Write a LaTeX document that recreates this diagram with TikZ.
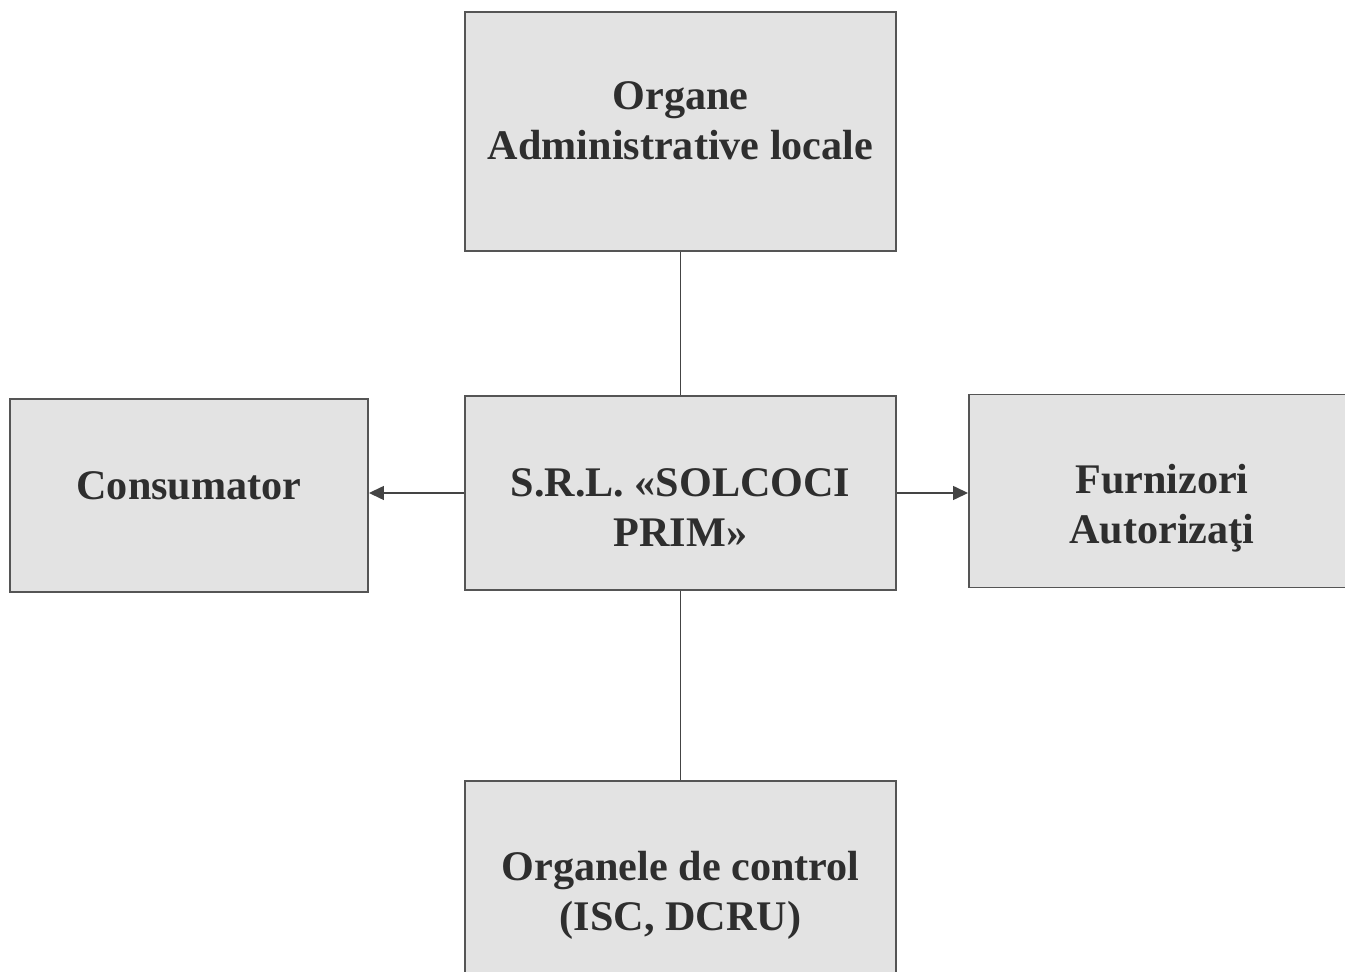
\documentclass[tikz,border=0pt]{standalone}
\usepackage{fontspec}
\setmainfont{Liberation Serif}
\usetikzlibrary{arrows.meta}
\definecolor{boxgrau}{HTML}{E3E3E3}
\definecolor{randgrau}{HTML}{555555}
\definecolor{textgrau}{HTML}{2E2E2E}
% Text im Kasten, senkrecht versetzt
\newcommand{\kastentext}[2]{\raisebox{#1}[0pt][0pt]{\begin{tabular}{@{}c@{}}#2\end{tabular}}}
\tikzset{
  kasten/.style={draw=randgrau, fill=boxgrau, line width=1.1pt,
    text=textgrau, font=\fontsize{24}{28.5}\selectfont\bfseries, inner sep=0pt},
  verbindung/.style={draw=randgrau!80!black, line width=0.8pt},
  pfeil/.style={verbindung, -{Triangle[length=0.3cm, width=0.28cm]}}
}
\begin{document}
\begin{tikzpicture}
  % Bildrahmen
  \useasboundingbox (0,0) rectangle (26.9,-19.44);
  \clip (0,0) rectangle (26.9,-19.44);

  % Kaesten
  \node[kasten, minimum width=8.62cm, minimum height=4.78cm] (organe) at (13.61,-2.63) {\kastentext{-0.08cm}{Organe\\Administrative locale}};
  \node[kasten, minimum width=8.62cm, minimum height=3.88cm] (firma) at (13.61,-9.86) {\kastentext{-0.59cm}{S.R.L. «SOLCOCI\\PRIM»}};
  \node[kasten, minimum width=7.16cm, minimum height=3.86cm] (consumator) at (3.78,-9.91) {\kastentext{-0.09cm}{Consumator}};
  \node[kasten, minimum width=7.72cm, minimum height=3.86cm] (furnizori) at (23.24,-9.82) {\kastentext{-0.57cm}{Furnizori\\Autorizaţi}};
  \node[kasten, minimum width=8.62cm, minimum height=4.6cm] (control) at (13.61,-17.92) {\kastentext{-0.21cm}{Organele de control\\(ISC, DCRU)}};

  % Verbindungen
  \draw[verbindung] (organe.south) -- (firma.north);
  \draw[verbindung] (firma.south) -- (control.north);
  \draw[pfeil] (firma.west) -- (firma.west -| consumator.east);
  \draw[pfeil] (firma.east) -- (firma.east -| furnizori.west);
\end{tikzpicture}
\end{document}
